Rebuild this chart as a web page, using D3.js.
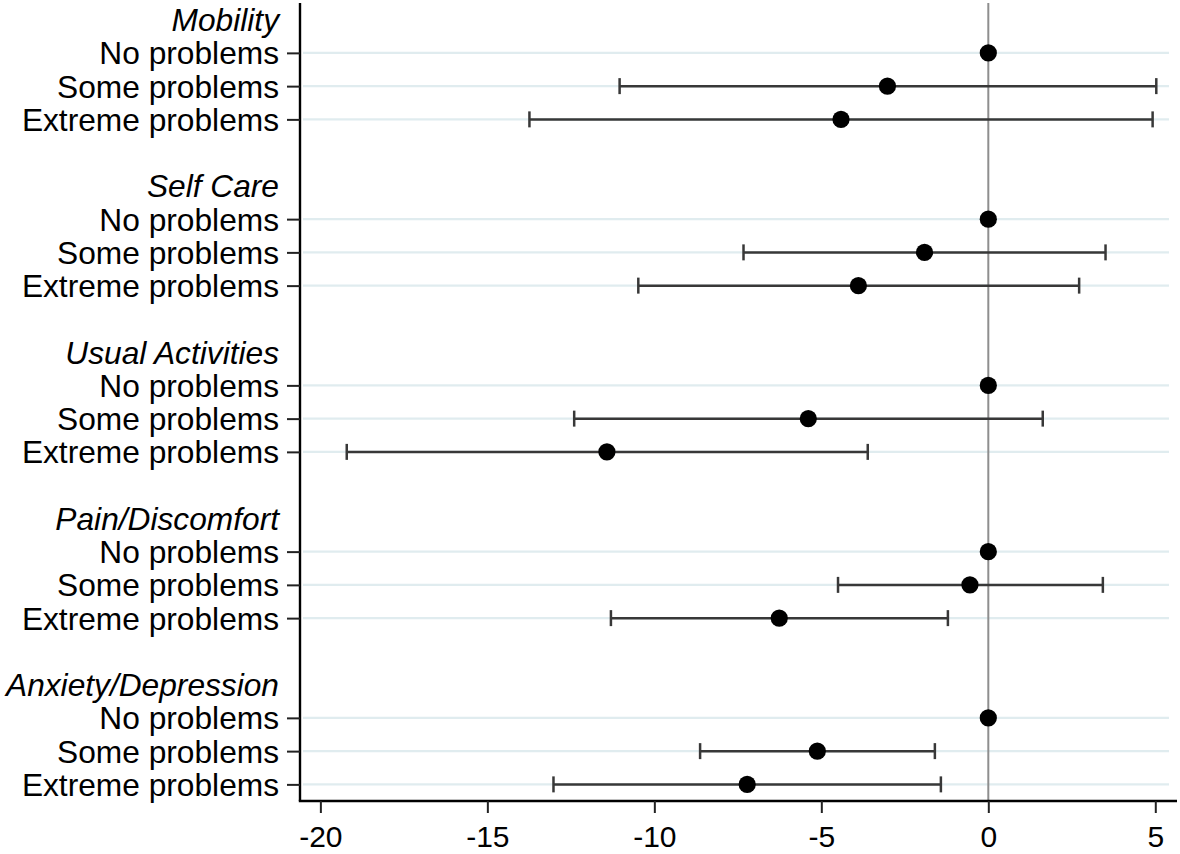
<!DOCTYPE html>
<html>
<head>
<meta charset="utf-8">
<script src="https://cdn.jsdelivr.net/npm/d3@7"></script>
<style>
  html, body { margin: 0; padding: 0; background: #fff; }
  svg { display: block; }
  text { font-family: "Liberation Sans", Arial, sans-serif; fill: #000; }
</style>
</head>
<body>
<svg id="chart" width="1180" height="854"></svg>
<script>
// ---- data ----
const groups = ["Mobility", "Self Care", "Usual Activities", "Pain/Discomfort", "Anxiety/Depression"];
const levels = ["No problems", "Some problems", "Extreme problems"];
const estimates = [
  [0, -3.02, -4.41],
  [0, -1.91, -3.89],
  [0, -5.39, -11.42],
  [0, -0.55, -6.26],
  [0, -5.12, -7.22]
];
const lowerCI = [
  [null, -11.04, -13.74],
  [null, -7.33, -10.48],
  [null, -12.40, -19.21],
  [null, -4.50, -11.30],
  [null, -8.63, -13.02]
];
const upperCI = [
  [null, 5.03, 4.92],
  [null, 3.51, 2.72],
  [null, 1.63, -3.61],
  [null, 3.43, -1.21],
  [null, -1.60, -1.42]
];
const xTicks = [-20, -15, -10, -5, 0, 5];

(function () {
// ---- build rows ----
const headings = [];
const items = [];
groups.forEach((g, gi) => {
  const base = gi * 5;
  headings.push({ label: g, row: base });
  levels.forEach((lv, li) => {
    items.push({
      label: lv, row: base + 1 + li,
      est: estimates[gi][li], lo: lowerCI[gi][li], hi: upperCI[gi][li]
    });
  });
});

const svg = d3.select("#chart");
const pLeft = 300, pRight = 1177, pTop = 3, pBottom = 801;

const x = d3.scaleLinear().domain([-20.61, 5.65]).range([pLeft, pRight]);
const y = d3.scaleLinear().domain([-0.5, 23.5]).range([pTop, pBottom]);

// gridlines
svg.append("g").selectAll("line").data(items).join("line")
  .attr("x1", pLeft + 3).attr("x2", 1169)
  .attr("y1", d => y(d.row)).attr("y2", d => y(d.row))
  .attr("stroke", "#e0ecef").attr("stroke-width", 2.4);

// zero line
svg.append("line")
  .attr("x1", x(0)).attr("x2", x(0))
  .attr("y1", pTop).attr("y2", pBottom)
  .attr("stroke", "#8e8e8e").attr("stroke-width", 2);

// CI bars
const ci = items.filter(d => d.lo !== null);
const capH = 8;
const gci = svg.append("g").attr("stroke", "#383838").attr("stroke-width", 2.5).attr("fill", "none");
gci.selectAll("line.bar").data(ci).join("line").attr("class", "bar")
  .attr("x1", d => x(d.lo)).attr("x2", d => x(d.hi))
  .attr("y1", d => y(d.row)).attr("y2", d => y(d.row));
gci.selectAll("line.capL").data(ci).join("line").attr("class", "capL")
  .attr("x1", d => x(d.lo)).attr("x2", d => x(d.lo))
  .attr("y1", d => y(d.row) - capH).attr("y2", d => y(d.row) + capH);
gci.selectAll("line.capR").data(ci).join("line").attr("class", "capR")
  .attr("x1", d => x(d.hi)).attr("x2", d => x(d.hi))
  .attr("y1", d => y(d.row) - capH).attr("y2", d => y(d.row) + capH);

// points
svg.append("g").selectAll("circle").data(items).join("circle")
  .attr("cx", d => x(d.est)).attr("cy", d => y(d.row))
  .attr("r", 8.6).attr("fill", "#000");

// x axis
const xAxis = d3.axisBottom(x).tickValues(xTicks).tickSize(12).tickSizeOuter(0).tickPadding(13)
  .tickFormat(d => d < 0 ? "-" + Math.abs(d) : String(d));
const gx = svg.append("g").attr("transform", `translate(0,${pBottom})`).call(xAxis);
gx.select(".domain").attr("stroke", "#000").attr("stroke-width", 2.4)
  .attr("d", `M${pLeft - 1.2},0H${pRight}`);
gx.selectAll(".tick line").attr("stroke", "#222").attr("stroke-width", 2);
gx.selectAll(".tick text")
  .attr("font-family", "'Liberation Sans', Arial, sans-serif")
  .attr("font-size", 30).attr("fill", "#000");

// y axis (ticks at item rows)
const yAxis = d3.axisLeft(y).tickValues(items.map(d => d.row)).tickSize(13).tickSizeOuter(0).tickFormat("");
const gy = svg.append("g").attr("transform", `translate(${pLeft},0)`).call(yAxis);
gy.select(".domain").attr("stroke", "#000").attr("stroke-width", 2.4)
  .attr("d", `M0,${pTop}V${pBottom}`);
gy.selectAll(".tick line").attr("stroke", "#222").attr("stroke-width", 2);

// labels
const labelX = 279;
svg.append("g").selectAll("text").data(items).join("text")
  .attr("x", labelX).attr("y", d => y(d.row))
  .attr("dy", "0.36em").attr("text-anchor", "end")
  .attr("font-size", 31.7).text(d => d.label);
svg.append("g").selectAll("text").data(headings).join("text")
  .attr("x", labelX).attr("y", d => y(d.row))
  .attr("dy", "0.36em").attr("text-anchor", "end")
  .attr("font-size", 31.7).attr("font-style", "italic").text(d => d.label);
})();
</script>
</body>
</html>
